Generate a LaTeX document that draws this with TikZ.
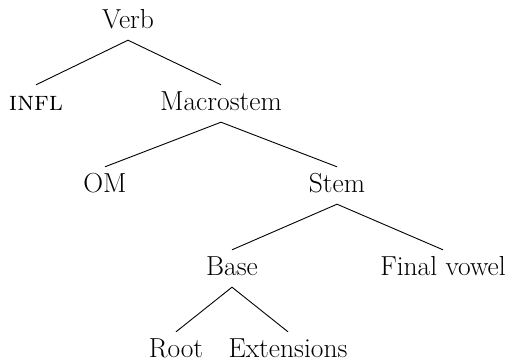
\documentclass[tikz,border=0pt]{standalone}
\begin{document}
\begin{tikzpicture}[x=1pt,y=-1pt,
  lbl/.style={anchor=base,inner xsep=0pt,inner ysep=7pt,text height=18pt,text depth=5pt,font=\fontsize{27.5}{32}\selectfont},
  edge/.style={line width=0.9pt}]
\useasboundingbox (0,0) rectangle (511,362);
\node[lbl] (verb) at (128,28) {Verb};
\node[lbl] (infl) at (36,110) {\textsc{infl}};
\node[lbl] (macro) at (221,110) {Macrostem};
\node[lbl] (om) at (105,192) {OM};
\node[lbl] (stem) at (337,192) {Stem};
\node[lbl] (base) at (232,275) {Base};
\node[lbl] (fv) at (443,275) {Final vowel};
\node[lbl] (root) at (176,357) {Root};
\node[lbl] (ext) at (288,357) {Extensions};
\draw[edge] (infl.north) -- (verb.south) -- (macro.north);
\draw[edge] (om.north) -- (macro.south) -- (stem.north);
\draw[edge] (base.north) -- (stem.south) -- (fv.north);
\draw[edge] (root.north) -- (base.south) -- (ext.north);
\end{tikzpicture}
\end{document}
